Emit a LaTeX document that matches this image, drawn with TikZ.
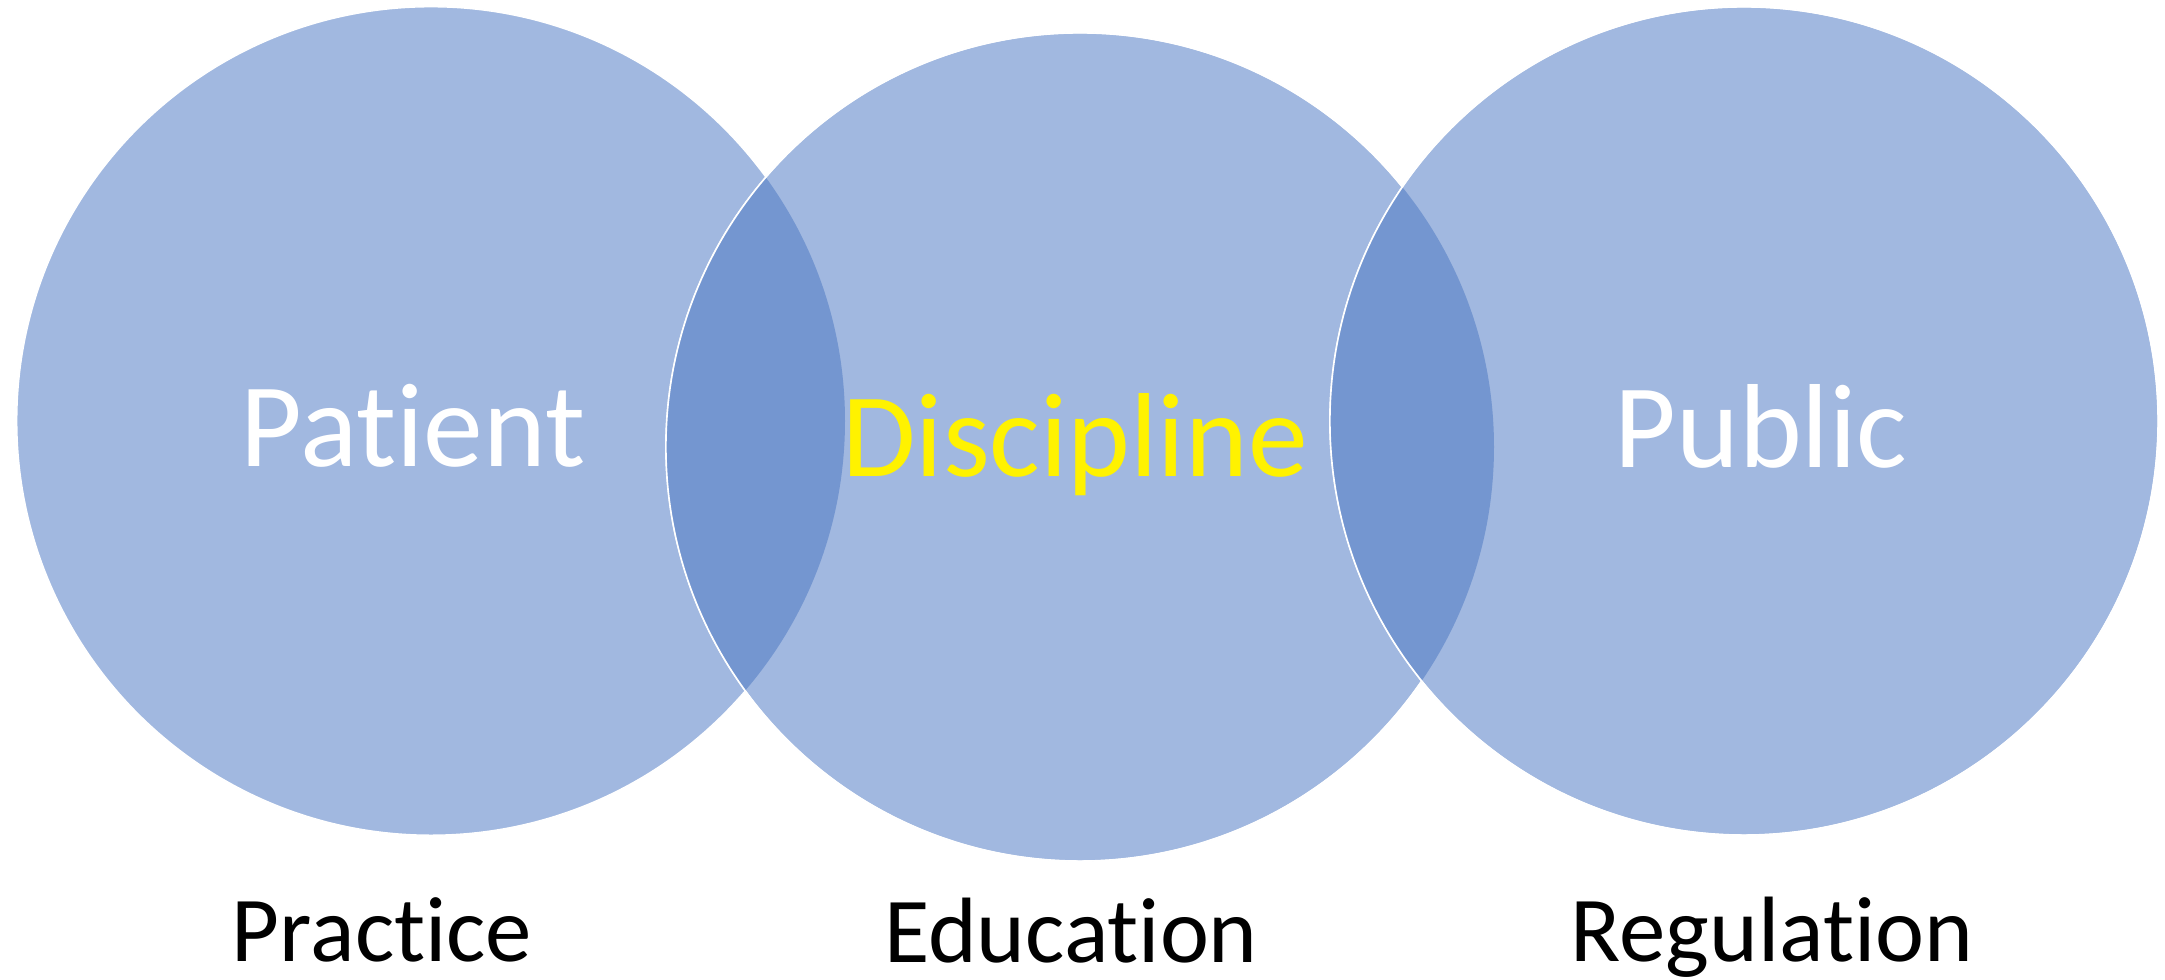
\documentclass[tikz,border=0pt]{standalone}
\usepackage{fontspec}
\setmainfont{Carlito}[Ligatures={NoCommon}]
\usepackage{tikz}
\definecolor{vennfill}{HTML}{A1B8E0}
\definecolor{lensfill}{HTML}{7496D0}
\tikzset{x=0.01cm, y=0.01cm}
\tikzset{ring/.style={circle, fill=vennfill, draw=white, line width=0.4pt, minimum size=8.28cm, inner sep=0pt},
	rim/.style={draw=white, line width=0.4pt},
	big/.style={font=\fontsize{34}{40}\selectfont, anchor=base, inner sep=0pt},
	low/.style={font=\fontsize{26.4}{32}\selectfont, anchor=base, inner sep=0pt}}

\begin{document}
\begin{tikzpicture}
		\useasboundingbox (0,0) rectangle (2165,980);
		\node[ring](L) at (431,559){};
		\node[ring](M) at (1080,533){};
		\begin{scope}
			\clip (L.center) circle [radius=414];
			\fill[lensfill] (M.center) circle [radius=414];
		\end{scope}
		\path[rim] (M.center) circle [radius=414];
		\node[ring](R) at (1744,559){};
		\begin{scope}
			\clip (R.center) circle [radius=414];
			\fill[lensfill] (M.center) circle [radius=414];
		\end{scope}
		\path[rim] (R.center) circle [radius=414];
		\node[big, white](pat) at (413,513){Patient};
		\node[big, yellow](dis) at (1075,503){Discipline};
		\node[big, white](pub) at (1761,512){Public};
		\node[low](pra) at (382,18){Practice};
		\node[low](edu) at (1071,17){Education};
		\node[low](reg) at (1772,18){Regulation};
	\end{tikzpicture}
\end{document}
